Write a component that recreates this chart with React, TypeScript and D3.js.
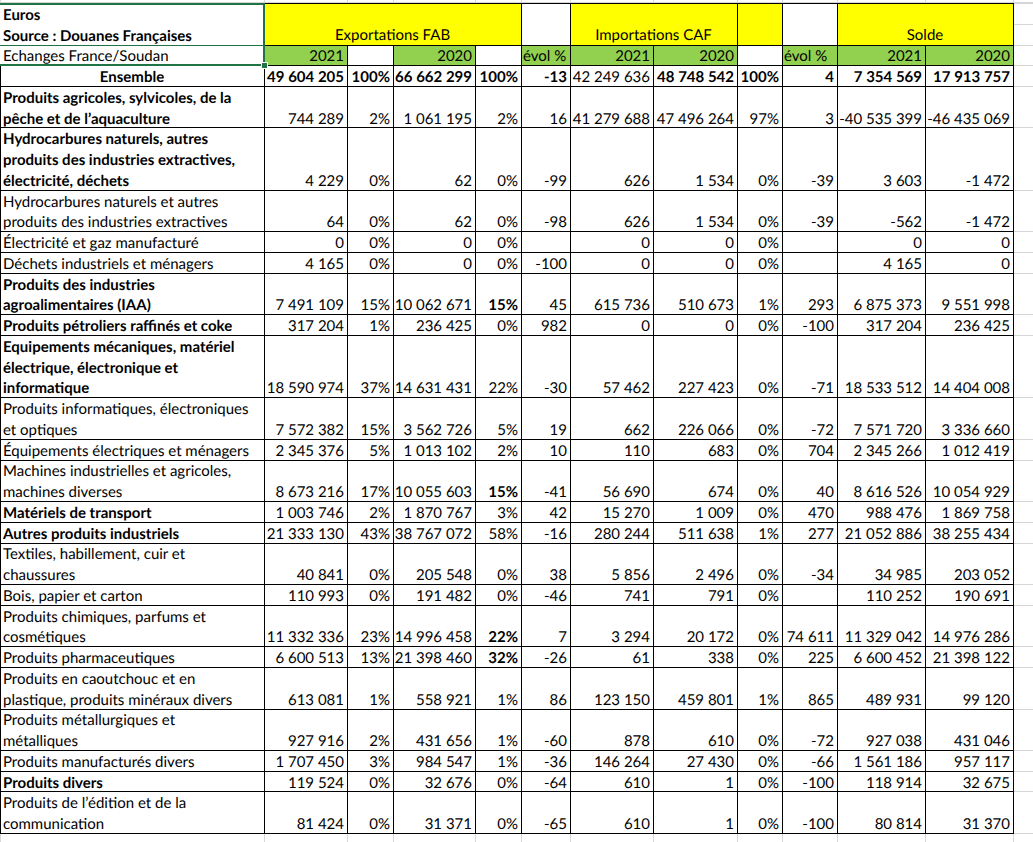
import React from "react";
import * as d3 from "d3";

// ---------- DATA ----------
const titleLines = ["Euros", "Source : Douanes Françaises", "Echanges France/Soudan"];
const groupTitles = ["Exportations FAB", "Importations CAF", "Solde"];
const subHeaders = ["2021", "", "2020", "", "évol %", "2021", "2020", "", "évol %", "2021", "2020"];

const rowLabels: string[][] = [
  ["Ensemble"],
  ["Produits agricoles, sylvicoles, de la", "pêche et de l’aquaculture"],
  ["Hydrocarbures naturels, autres", "produits des industries extractives,", "électricité, déchets"],
  ["Hydrocarbures naturels et autres", "produits des industries extractives"],
  ["Électricité et gaz manufacturé"],
  ["Déchets industriels et ménagers"],
  ["Produits des industries", "agroalimentaires (IAA)"],
  ["Produits pétroliers raffinés et coke"],
  ["Equipements mécaniques, matériel", "électrique, électronique et", "informatique"],
  ["Produits informatiques, électroniques", "et optiques"],
  ["Équipements électriques et ménagers"],
  ["Machines industrielles et agricoles,", "machines diverses"],
  ["Matériels de transport"],
  ["Autres produits industriels"],
  ["Textiles, habillement, cuir et", "chaussures"],
  ["Bois, papier et carton"],
  ["Produits chimiques, parfums et", "cosmétiques"],
  ["Produits pharmaceutiques"],
  ["Produits en caoutchouc et en", "plastique, produits minéraux divers"],
  ["Produits métallurgiques et", "métalliques"],
  ["Produits manufacturés divers"],
  ["Produits divers"],
  ["Produits de l’édition et de la", "communication"],
];
// hierarchy level: 0 total, 1 section, 2 sub-item
const rowLevel = [0, 1, 1, 2, 2, 2, 1, 1, 1, 2, 2, 2, 1, 1, 2, 2, 2, 2, 2, 2, 2, 1, 2];

const exp2021 = [49604205, 744289, 4229, 64, 0, 4165, 7491109, 317204, 18590974, 7572382, 2345376, 8673216, 1003746, 21333130, 40841, 110993, 11332336, 6600513, 613081, 927916, 1707450, 119524, 81424];
const expShare2021 = [100, 2, 0, 0, 0, 0, 15, 1, 37, 15, 5, 17, 2, 43, 0, 0, 23, 13, 1, 2, 3, 0, 0];
const exp2020 = [66662299, 1061195, 62, 62, 0, 0, 10062671, 236425, 14631431, 3562726, 1013102, 10055603, 1870767, 38767072, 205548, 191482, 14996458, 21398460, 558921, 431656, 984547, 32676, 31371];
const expShare2020 = [100, 2, 0, 0, 0, 0, 15, 0, 22, 5, 2, 15, 3, 58, 0, 0, 22, 32, 1, 1, 1, 0, 0];
const expEvol = [-13, 16, -99, -98, null, -100, 45, 982, -30, 19, 10, -41, 42, -16, 38, -46, 7, -26, 86, -60, -36, -64, -65];
const imp2021 = [42249636, 41279688, 626, 626, 0, 0, 615736, 0, 57462, 662, 110, 56690, 15270, 280244, 5856, 741, 3294, 61, 123150, 878, 146264, 610, 610];
const imp2020 = [48748542, 47496264, 1534, 1534, 0, 0, 510673, 0, 227423, 226066, 683, 674, 1009, 511638, 2496, 791, 20172, 338, 459801, 610, 27430, 1, 1];
const impShare2020 = [100, 97, 0, 0, 0, 0, 1, 0, 0, 0, 0, 0, 0, 1, 0, 0, 0, 0, 1, 0, 0, 0, 0];
const impEvol = [4, 3, -39, -39, null, null, 293, -100, -71, -72, 704, 40, 470, 277, -34, null, 74611, 225, 865, -72, -66, -100, -100];
const solde2021 = [7354569, -40535399, 3603, -562, 0, 4165, 6875373, 317204, 18533512, 7571720, 2345266, 8616526, 988476, 21052886, 34985, 110252, 11329042, 6600452, 489931, 927038, 1561186, 118914, 80814];
const solde2020 = [17913757, -46435069, -1472, -1472, 0, 0, 9551998, 236425, 14404008, 3336660, 1012419, 10054929, 1869758, 38255434, 203052, 190691, 14976286, 21398122, 99120, 431046, 957117, 32675, 31370];

// ---------- LAYOUT / STYLE ----------
const W = 1033;
const H = 842;
const colEdges = [0, 264, 347, 393, 475, 521, 570, 653, 737, 782, 837, 925, 1013];
const FONT = "Lato, 'Noto Sans', sans-serif";
const FS = 15;
const YELLOW = "#FFFF00";
const GREEN = "#92D050";
const SEL = "#217346";
const GRID = "#d6d6d6";
// [row, column] cells shown in bold in the sheet
const boldCells = [[6, 3], [11, 3], [16, 3], [17, 3]];
const nonBoldInTotal = [5];

const locale = d3.formatLocale({ decimal: ",", thousands: " ", grouping: [3], currency: ["", " €"], minus: "-" });
const fmtInt = locale.format(",d");

type Kind = "num" | "pct";
const columns: { values: (number | null)[]; kind: Kind }[] = [
  { values: exp2021, kind: "num" },
  { values: expShare2021, kind: "pct" },
  { values: exp2020, kind: "num" },
  { values: expShare2020, kind: "pct" },
  { values: expEvol, kind: "num" },
  { values: imp2021, kind: "num" },
  { values: imp2020, kind: "num" },
  { values: impShare2020, kind: "pct" },
  { values: impEvol, kind: "num" },
  { values: solde2021, kind: "num" },
  { values: solde2020, kind: "num" },
];

export default function App() {
  const headerLines = titleLines.length;
  const rowStarts: number[] = [];
  let acc = headerLines;
  rowLabels.forEach((l) => {
    rowStarts.push(acc);
    acc += l.length;
  });
  const totalLines = acc;
  const y = d3.scaleLinear().domain([0, totalLines]).range([3, 833]);
  const x = d3.scaleOrdinal<number, number>().domain(d3.range(colEdges.length)).range(colEdges);
  const px = (v: number) => Math.round(v) + 0.5;
  const xR = colEdges[colEdges.length - 1];

  const boundaries: number[] = [0, 1, 2, 3, ...rowStarts.slice(1), totalLines];

  const txt = (key: string, tx: number, ty: number, s: string, opts: any = {}) => (
    <text key={key} x={tx} y={ty} fontFamily={FONT} fontSize={FS} fill="#000" {...opts}>
      {s}
    </text>
  );

  const els: any[] = [];

  // spreadsheet gridlines outside the table
  colEdges.forEach((c, i) => {
    els.push(<line key={"gt" + i} x1={px(c)} x2={px(c)} y1={0} y2={y(0)} stroke={GRID} />);
    els.push(<line key={"gb" + i} x1={px(c)} x2={px(c)} y1={y(totalLines)} y2={H} stroke={GRID} />);
  });
  boundaries.forEach((b, i) => {
    els.push(<line key={"gr" + i} x1={xR} x2={W} y1={px(y(b))} y2={px(y(b))} stroke={GRID} />);
  });
  els.push(<line key="gtop" x1={0} x2={W} y1={px(y(0)) - 1} y2={px(y(0)) - 1} stroke={GRID} />);

  // header group fills (rows 1-2)
  const groups = [
    { a: 1, b: 5, fill: YELLOW, label: groupTitles[0] },
    { a: 5, b: 6, fill: "#fff", label: "" },
    { a: 6, b: 8, fill: YELLOW, label: groupTitles[1] },
    { a: 8, b: 9, fill: YELLOW, label: "" },
    { a: 9, b: 10, fill: "#fff", label: "" },
    { a: 10, b: 12, fill: YELLOW, label: groupTitles[2] },
  ];
  groups.forEach((g, i) => {
    const x0 = x(g.a), x1 = x(g.b);
    els.push(
      <rect key={"hg" + i} x={px(x0)} y={px(y(0))} width={Math.round(x1) - Math.round(x0)} height={Math.round(y(2)) - Math.round(y(0))} fill={g.fill} stroke="#000" />
    );
    if (g.label) els.push(txt("hgt" + i, (x0 + x1) / 2, y(2) - 5, g.label, { textAnchor: "middle" }));
  });

  // sub header row (green)
  subHeaders.forEach((s, i) => {
    const x0 = x(i + 1), x1 = x(i + 2);
    els.push(
      <rect key={"sh" + i} x={px(x0)} y={px(y(2))} width={Math.round(x1) - Math.round(x0)} height={Math.round(y(3)) - Math.round(y(2))} fill={s ? GREEN : "#fff"} stroke="#000" />
    );
    if (s) {
      const isEvol = s.startsWith("évol");
      els.push(txt("sht" + i, isEvol ? x0 + 2 : x1 - 3, y(3) - 4, s, { textAnchor: isEvol ? "start" : "end" }));
    }
  });

  // body grid
  const yTop = px(y(3));
  const yBot = px(y(totalLines));
  [3, ...rowStarts.slice(1), totalLines].forEach((b, i) => {
    els.push(<line key={"hb" + i} x1={0} x2={px(xR)} y1={px(y(b))} y2={px(y(b))} stroke="#000" />);
  });
  colEdges.forEach((c, i) => {
    els.push(<line key={"vb" + i} x1={px(c)} x2={px(c)} y1={yTop} y2={yBot} stroke="#000" />);
  });

  // header title column
  titleLines.forEach((t, i) => {
    els.push(txt("tl" + i, 3, y(i + 1) - 4, t, { fontWeight: i < 2 ? 700 : 400 }));
  });

  // body text
  rowLabels.forEach((lines, r) => {
    const s = rowStarts[r];
    const lvl = rowLevel[r];
    lines.forEach((l, k) => {
      els.push(
        txt("rl" + r + "_" + k, lvl === 0 ? x(1) / 2 : 3, y(s + k + 1) - 4, l, {
          fontWeight: lvl <= 1 ? 700 : 400,
          textAnchor: lvl === 0 ? "middle" : "start",
        })
      );
    });
    const by = y(s + lines.length) - 4;
    columns.forEach((c, ci) => {
      const v = c.values[r];
      if (v === null || v === undefined) return;
      const s2 = c.kind === "pct" ? `${v}%` : fmtInt(v);
      const bold =
        (lvl === 0 && !nonBoldInTotal.includes(ci)) || boldCells.some(([rr, cc]) => rr === r && cc === ci);
      els.push(txt("v" + r + "_" + ci, x(ci + 2) - 3, by, s2, { textAnchor: "end", fontWeight: bold ? 700 : 400 }));
    });
  });

  // selection outline
  const sy0 = Math.round(y(0)) + 1;
  const sy1 = Math.round(y(3));
  els.push(<rect key="sel" x={-1} y={sy0} width={x(1) + 1} height={sy1 - sy0} fill="none" stroke={SEL} strokeWidth={2} />);
  els.push(<line key="selm" x1={0} x2={x(1)} y1={px(y(2))} y2={px(y(2))} stroke={SEL} strokeWidth={1.5} />);
  els.push(<rect key="selh" x={x(1) - 3} y={sy1 - 3} width={6} height={6} fill={SEL} stroke="#fff" strokeWidth={1} />);

  return (
    <svg width={W} height={H} style={{ position: "absolute", left: 0, top: 0, background: "#fff" }} shapeRendering="crispEdges">
      <rect x={0} y={0} width={W} height={H} fill="#fff" />
      <g textRendering="geometricPrecision">{els}</g>
    </svg>
  );
}
